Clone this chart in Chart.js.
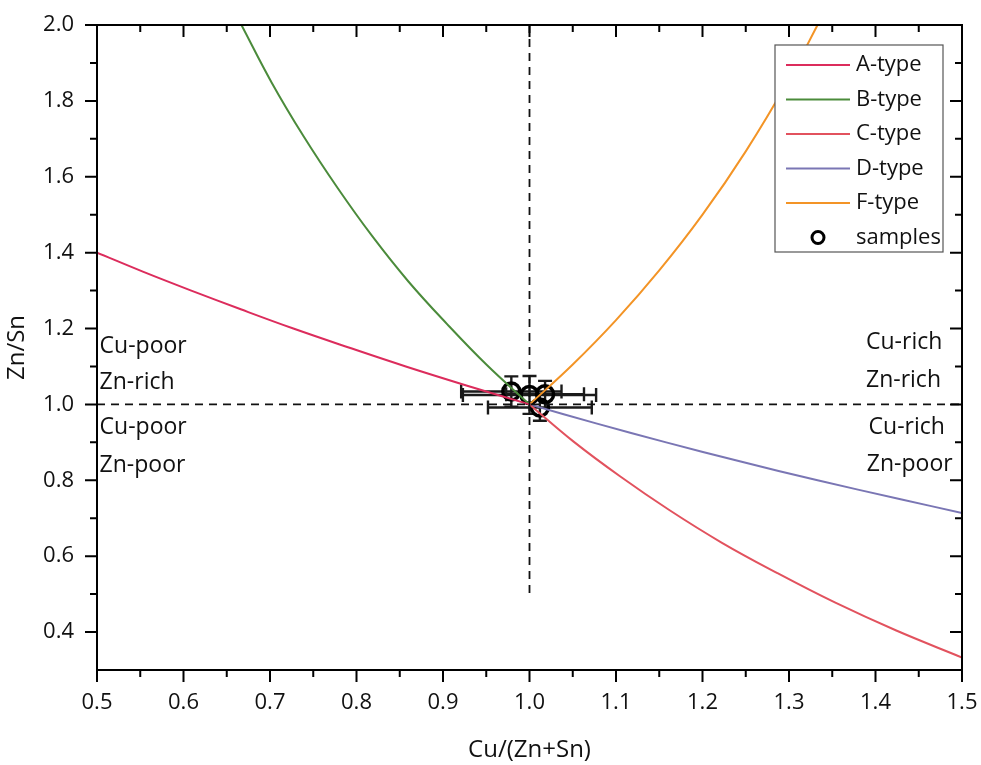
<!DOCTYPE html>
<html>
<head>
<meta charset="utf-8">
<script src="https://cdn.jsdelivr.net/npm/chart.js@4/dist/chart.umd.min.js"></script>
<style>
  html, body { margin: 0; padding: 0; background: #fff; }
  #wrap { width: 981px; height: 765px; }
</style>
</head>
<body>
<div id="wrap"><canvas id="chart" width="981" height="765"></canvas></div>
<script>
// values
const aTypeX = [0.5, 0.553, 0.609, 0.667, 0.727, 0.791, 0.857, 0.927, 1.0];
const aTypeY = [1.4, 1.35, 1.3, 1.25, 1.2, 1.15, 1.1, 1.05, 1.0];
const bTypeX = [1.0, 0.951, 0.905, 0.860, 0.818, 0.778, 0.739, 0.702, 0.667];
const bTypeY = [1.0, 1.103, 1.211, 1.324, 1.444, 1.571, 1.706, 1.848, 2.0];
const cTypeX = [1.0, 1.051, 1.105, 1.162, 1.222, 1.286, 1.353, 1.424, 1.5];
const cTypeY = [1.0, 0.902, 0.810, 0.721, 0.636, 0.556, 0.478, 0.404, 0.333];
const dTypeX = [1.0, 1.077, 1.158, 1.243, 1.333, 1.429, 1.5];
const dTypeY = [1.0, 0.95, 0.9, 0.85, 0.8, 0.75, 0.714];
const fTypeX = [1.0, 1.05, 1.1, 1.15, 1.2, 1.25, 1.3, 1.333];
const fTypeY = [1.0, 1.105, 1.222, 1.353, 1.5, 1.667, 1.857, 2.0];

const sampleX = [0.979, 1.000, 1.018, 1.012];
const sampleY = [1.034, 1.025, 1.027, 0.992];
const sampleXErr = [0.058, 0.077, 0.045, 0.060];
const sampleYErr = [0.040, 0.050, 0.035, 0.035];

const guideVX = [1.0, 1.0];
const guideVY = [2.0, 0.49];
const guideHX = [0.5, 1.5];
const guideHY = [1.0, 1.0];

const xTickValues = [0.5, 0.6, 0.7, 0.8, 0.9, 1.0, 1.1, 1.2, 1.3, 1.4, 1.5];
const yTickValues = [0.4, 0.6, 0.8, 1.0, 1.2, 1.4, 1.6, 1.8, 2.0];

const regionLabels = [
  { text: "Cu-poor", x: 0.503, y: 1.154 },
  { text: "Zn-rich", x: 0.503, y: 1.059 },
  { text: "Cu-poor", x: 0.503, y: 0.938 },
  { text: "Zn-poor", x: 0.503, y: 0.838 },
  { text: "Cu-rich", x: 1.389, y: 1.164 },
  { text: "Zn-rich", x: 1.389, y: 1.064 },
  { text: "Cu-rich", x: 1.392, y: 0.940 },
  { text: "Zn-poor", x: 1.390, y: 0.843 }
];

const FONT = "'Open Sans', sans-serif";

function pts(xs, ys) {
  return xs.map((x, i) => ({ x: x, y: ys[i] }));
}

function curve(label, xs, ys, color) {
  return {
    label: label,
    data: pts(xs, ys),
    showLine: true,
    borderColor: color,
    backgroundColor: color,
    borderWidth: 2,
    tension: 0.4,
    pointRadius: 0,
    inLegend: true
  };
}

function guide(xs, ys) {
  return {
    data: pts(xs, ys),
    showLine: true,
    borderColor: "#111",
    borderWidth: 1.8,
    borderDash: [8, 6],
    pointRadius: 0,
    inLegend: false
  };
}

// frame, ticks (outward on left/bottom, mirrored inward on top/right), labels, legend
const framePlugin = {
  id: "frame",
  afterDatasetsDraw(chart) {
    const ctx = chart.ctx;
    const a = chart.chartArea;
    const xs = chart.scales.x, ys = chart.scales.y;
    ctx.save();
    ctx.strokeStyle = "#000";
    ctx.lineWidth = 2;
    ctx.strokeRect(a.left, a.top, a.right - a.left, a.bottom - a.top);
    const maj = 12, min = 7;
    ctx.beginPath();
    for (let i = 0; i < xTickValues.length; i++) {
      const px = xs.getPixelForValue(xTickValues[i]);
      ctx.moveTo(px, a.bottom); ctx.lineTo(px, a.bottom + maj);
      ctx.moveTo(px, a.top); ctx.lineTo(px, a.top + maj);
      if (i < xTickValues.length - 1) {
        const mx = xs.getPixelForValue((xTickValues[i] + xTickValues[i + 1]) / 2);
        ctx.moveTo(mx, a.bottom); ctx.lineTo(mx, a.bottom + min);
        ctx.moveTo(mx, a.top); ctx.lineTo(mx, a.top + min);
      }
    }
    for (let i = 0; i < yTickValues.length; i++) {
      const py = ys.getPixelForValue(yTickValues[i]);
      ctx.moveTo(a.left, py); ctx.lineTo(a.left - maj, py);
      ctx.moveTo(a.right, py); ctx.lineTo(a.right - maj, py);
      if (i < yTickValues.length - 1) {
        const my = ys.getPixelForValue((yTickValues[i] + yTickValues[i + 1]) / 2);
        ctx.moveTo(a.left, my); ctx.lineTo(a.left - min, my);
        ctx.moveTo(a.right, my); ctx.lineTo(a.right - min, my);
      }
    }
    ctx.stroke();

    // region labels
    ctx.fillStyle = "#111";
    ctx.font = "23px " + FONT;
    ctx.textBaseline = "middle";
    ctx.textAlign = "left";
    regionLabels.forEach(l => {
      ctx.fillText(l.text, xs.getPixelForValue(l.x), ys.getPixelForValue(l.y));
    });

    // legend box
    const bx = a.right - 187, by = a.top + 20, bw = 168, bh = 207;
    ctx.fillStyle = "#fff";
    ctx.fillRect(bx, by, bw, bh);
    ctx.strokeStyle = "#555";
    ctx.lineWidth = 1.2;
    ctx.strokeRect(bx, by, bw, bh);
    ctx.font = "22px " + FONT;
    let row = 0;
    chart.data.datasets.forEach(ds => {
      if (!ds.inLegend) return;
      const cy = by + 20 + row * 34.5;
      if (ds.isSamples) {
        ctx.beginPath();
        ctx.arc(bx + 43, cy, 6, 0, Math.PI * 2);
        ctx.strokeStyle = "#000";
        ctx.lineWidth = 3;
        ctx.stroke();
      } else {
        ctx.beginPath();
        ctx.moveTo(bx + 11, cy); ctx.lineTo(bx + 75, cy);
        ctx.strokeStyle = ds.borderColor;
        ctx.lineWidth = 2;
        ctx.stroke();
      }
      ctx.fillStyle = "#111";
      ctx.fillText(ds.label, bx + 81, cy);
      row++;
    });
    ctx.restore();
  }
};

// error bars drawn just beneath the sample circles
const errorBarPlugin = {
  id: "errbars",
  beforeDatasetDraw(chart, args) {
    const ds = chart.data.datasets[args.index];
    if (!ds.isSamples) return;
    const ctx = chart.ctx;
    const xs = chart.scales.x, ys = chart.scales.y;
    ctx.save();
    ctx.strokeStyle = "#1a1a1a";
    ctx.lineWidth = 2.4;
    const cap = 7;
    ctx.beginPath();
    sampleX.forEach((x, i) => {
      const y = sampleY[i];
      const py = ys.getPixelForValue(y);
      const x1 = xs.getPixelForValue(x - sampleXErr[i]);
      const x2 = xs.getPixelForValue(x + sampleXErr[i]);
      ctx.moveTo(x1, py); ctx.lineTo(x2, py);
      ctx.moveTo(x1, py - cap); ctx.lineTo(x1, py + cap);
      ctx.moveTo(x2, py - cap); ctx.lineTo(x2, py + cap);
      const px = xs.getPixelForValue(x);
      const y1 = ys.getPixelForValue(y - sampleYErr[i]);
      const y2 = ys.getPixelForValue(y + sampleYErr[i]);
      ctx.moveTo(px, y1); ctx.lineTo(px, y2);
      ctx.moveTo(px - cap, y1); ctx.lineTo(px + cap, y1);
      ctx.moveTo(px - cap, y2); ctx.lineTo(px + cap, y2);
    });
    ctx.stroke();
    ctx.restore();
  }
};

const datasets = [
  guide(guideVX, guideVY),
  guide(guideHX, guideHY),
  curve("A-type", aTypeX, aTypeY, "#dc2c5c"),
  curve("B-type", bTypeX, bTypeY, "#4b8b3b"),
  curve("C-type", cTypeX, cTypeY, "#e2525e"),
  curve("D-type", dTypeX, dTypeY, "#7a76b4"),
  curve("F-type", fTypeX, fTypeY, "#f39426"),
  {
    label: "samples",
    data: pts(sampleX, sampleY),
    pointRadius: 8.5,
    pointHoverRadius: 8.5,
    pointBorderWidth: 3.5,
    borderColor: "#000",
    backgroundColor: "rgba(0,0,0,0)",
    inLegend: true,
    isSamples: true
  }
];

Chart.defaults.font.family = FONT;
Chart.defaults.color = "#111";

new Chart(document.getElementById("chart").getContext("2d"), {
  type: "scatter",
  data: { datasets: datasets },
  options: {
    responsive: false,
    animation: false,
    layout: { padding: { top: 25, right: 19, left: 0, bottom: 0 } },
    plugins: { legend: { display: false }, tooltip: { enabled: false } },
    scales: {
      x: {
        type: "linear",
        min: 0.5,
        max: 1.5,
        grid: { display: false, drawTicks: false },
        border: { display: false },
        afterBuildTicks: s => { s.ticks = xTickValues.map(v => ({ value: v })); },
        afterFit: s => { s.height = 95; s.paddingLeft = 0; s.paddingRight = 0; },
        ticks: {
          padding: 20,
          font: { size: 22 },
          callback: v => v.toFixed(1)
        },
        title: {
          display: true,
          text: "Cu/(Zn+Sn)",
          font: { size: 24 },
          padding: { bottom: 0, top: 0 }
        }
      },
      y: {
        type: "linear",
        min: 0.3,
        max: 2.0,
        grid: { display: false, drawTicks: false },
        border: { display: false },
        afterBuildTicks: s => { s.ticks = yTickValues.map(v => ({ value: v })); },
        afterFit: s => { s.width = 97; s.paddingTop = 0; s.paddingBottom = 0; },
        ticks: {
          padding: 23,
          font: { size: 22 },
          callback: v => v.toFixed(1)
        },
        title: {
          display: true,
          text: "Zn/Sn",
          font: { size: 24 },
          padding: { top: 3, bottom: 0 }
        }
      }
    }
  },
  plugins: [errorBarPlugin, framePlugin]
});
</script>
</body>
</html>
